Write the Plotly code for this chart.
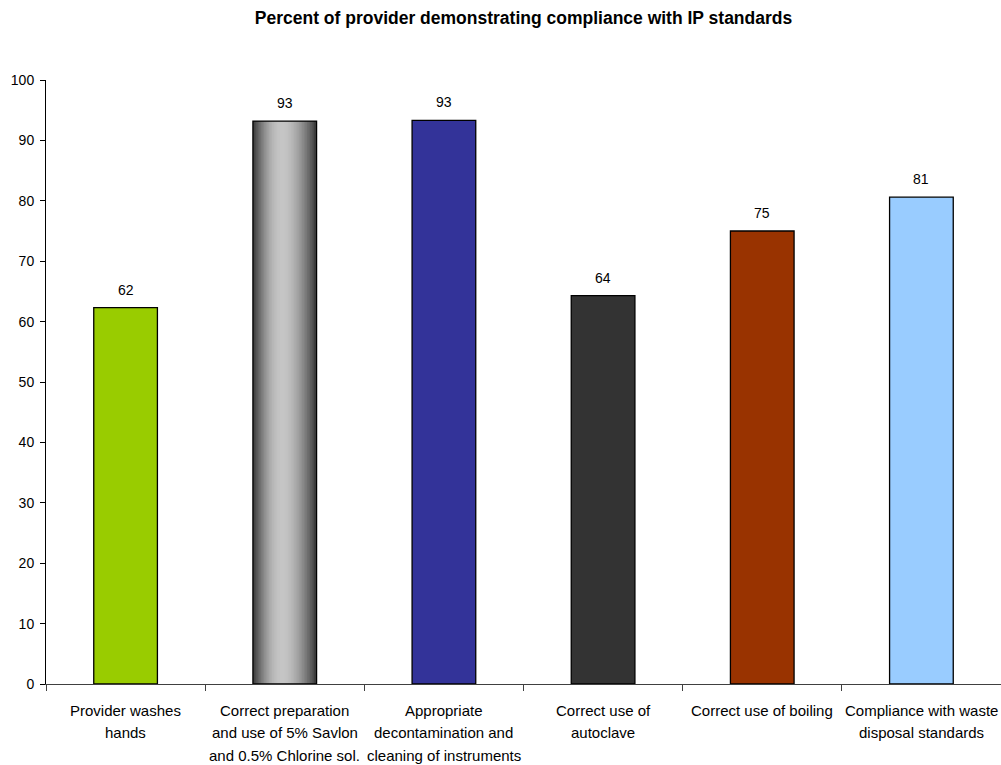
import math
import plotly.graph_objects as go

categories = [
    "Provider washes<br>hands",
    "Correct preparation<br>and use of 5% Savlon<br>and 0.5% Chlorine sol.",
    "Appropriate<br>decontamination and<br>cleaning of instruments",
    "Correct use of<br>autoclave",
    "Correct use of boiling",
    "Compliance with waste<br>disposal standards",
]
values = [62.3, 93.2, 93.3, 64.3, 75.0, 80.6]
labels = ["62", "93", "93", "64", "75", "81"]
colors = ["#99cc00", "rgba(0,0,0,0)", "#333399", "#333333", "#993300", "#99ccff"]
y_ticks = list(range(0, 101, 10))

GRAD_IDX = 1
BAR_W = 0.4
N = 40
FONT = "Liberation Sans, Arial, sans-serif"

fig = go.Figure()


def grey_at(t):
    peak = 0.45
    u = t / peak if t <= peak else (1 - t) / (1 - peak)
    u = math.sin(u * math.pi / 2)
    lo, hi = 58, 198
    g = int(lo + (hi - lo) * u)
    return f"rgb({g},{g},{g})"


# gradient for the grey bar: overlapping slices, each extending to the right edge
for i in range(N):
    t = (i + 0.5) / N
    start = -BAR_W / 2 + i * BAR_W / N
    fig.add_trace(go.Bar(
        x=[categories[GRAD_IDX]], y=[values[GRAD_IDX]],
        width=BAR_W / 2 - start, offset=start,
        marker=dict(color=grey_at(t), line=dict(width=0)),
        showlegend=False, hoverinfo="skip",
    ))

fig.add_trace(go.Bar(
    x=categories, y=values, width=BAR_W,
    marker=dict(color=colors, line=dict(color="black", width=1.3)),
    showlegend=False,
))

annotations = []
for c, v, lab in zip(categories, values, labels):
    annotations.append(dict(
        x=c, y=v, xref="x", yref="y", text=lab, showarrow=False,
        yanchor="middle", yshift=18, font=dict(family=FONT, size=14, color="black"),
    ))
    for k, line in enumerate(c.split("<br>")):
        annotations.append(dict(
            x=c, y=0, xref="x", yref="paper", text=line, showarrow=False,
            yanchor="middle", yshift=-26 - 22.5 * k,
            font=dict(family=FONT, size=15, color="black"),
        ))

fig.update_layout(
    barmode="overlay",
    width=1001, height=765,
    margin=dict(l=46, r=0, t=80, b=81),
    paper_bgcolor="white", plot_bgcolor="white",
    font=dict(family=FONT, size=14, color="black"),
    title=dict(
        text="<b>Percent of provider demonstrating compliance with IP standards</b>",
        x=0.5, xanchor="center", xref="paper", y=1 - 18 / 765, yanchor="middle",
        font=dict(size=17.5, family=FONT, color="black"),
    ),
    xaxis=dict(
        categoryorder="array", categoryarray=categories,
        showline=True, linecolor="#404040", linewidth=1,
        ticks="outside", ticklen=6, tickcolor="#404040",
        showgrid=False, tickson="boundaries", showticklabels=False,
    ),
    yaxis=dict(
        range=[0, 100], tickvals=y_ticks, showline=True, linecolor="black", linewidth=1,
        ticks="outside", ticklen=5, tickcolor="black", showgrid=False,
        zeroline=False, tickfont=dict(size=14, family=FONT), ticklabelstandoff=3,
    ),
    annotations=annotations,
)

fig.write_html("out.html")
